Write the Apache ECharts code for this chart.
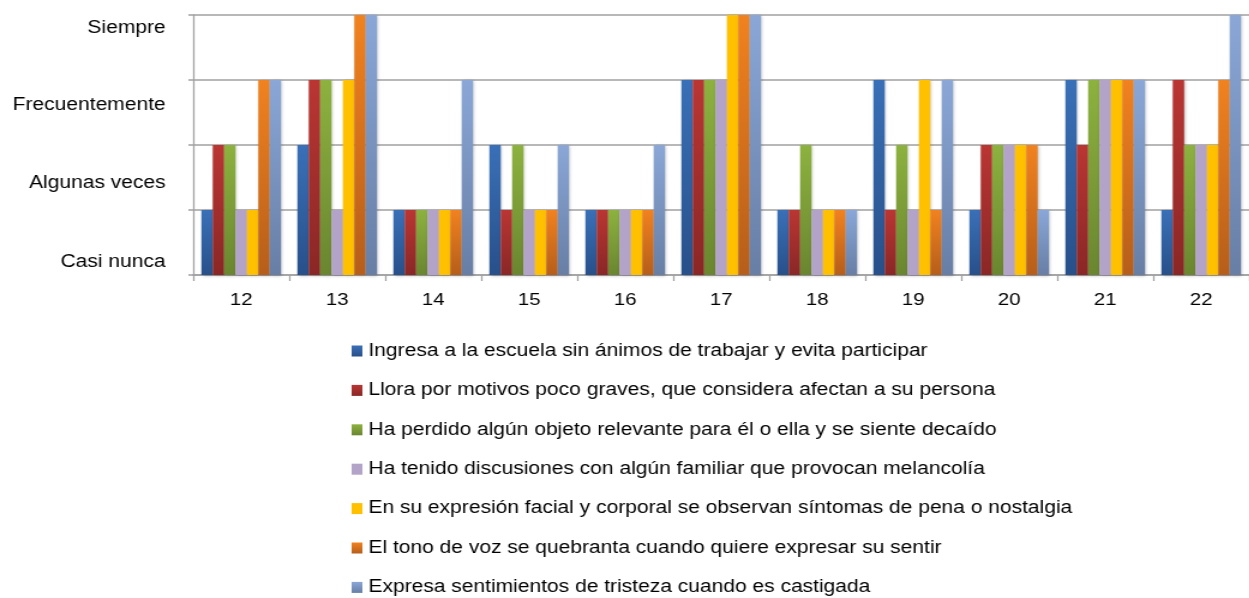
<!DOCTYPE html>
<html>
<head>
<meta charset="utf-8">
<script src="https://cdn.jsdelivr.net/npm/echarts@6/dist/echarts.min.js"></script>
<style>
  html, body { margin: 0; padding: 0; background: #fff; overflow: hidden; }
  /* el gráfico original está estirado en horizontal (~1.2x) */
  #chart { width: 1041px; height: 598px; transform: scaleX(1.2); transform-origin: 0 0; }
</style>
</head>
<body>
<div id="chart"></div>
<script>
// categorías (número de alumno / ítem)
const categories = ['12', '13', '14', '15', '16', '17', '18', '19', '20', '21', '22'];
// escala: 1 = Casi nunca ... 4 = Siempre
const levelLabels = ['Casi nunca', 'Algunas veces', 'Frecuentemente', 'Siempre'];

const seriesNames = [
  'Ingresa a la escuela sin ánimos de trabajar y evita participar',
  'Llora por motivos poco graves, que considera afectan a su persona',
  'Ha perdido algún objeto relevante para él o ella y se siente decaído',
  'Ha tenido discusiones con algún familiar que provocan melancolía',
  'En su expresión facial y corporal se observan síntomas de pena o nostalgia',
  'El tono de voz se quebranta cuando quiere expresar su sentir',
  'Expresa sentimientos de tristeza cuando es castigada'
];

const ingresa    = [1, 2, 1, 2, 1, 3, 1, 3, 1, 3, 1];
const llora      = [2, 3, 1, 1, 1, 3, 1, 1, 2, 2, 3];
const perdido    = [2, 3, 1, 2, 1, 3, 2, 2, 2, 3, 2];
const discusion  = [1, 1, 1, 1, 1, 3, 1, 1, 2, 3, 2];
const expresion  = [1, 3, 1, 1, 1, 4, 1, 3, 2, 3, 2];
const tonoVoz    = [3, 4, 1, 1, 1, 4, 1, 1, 2, 3, 3];
const tristeza   = [3, 4, 3, 2, 2, 4, 1, 3, 1, 3, 4];

const seriesData = [ingresa, llora, perdido, discusion, expresion, tonoVoz, tristeza];

// colores estilo Office (arriba / abajo del degradado)
const colorPairs = [
  ['#3A70B8', '#28508A'],
  ['#BA3633', '#8A2726'],
  ['#8DB23F', '#6A8630'],
  ['#B3A3C8', '#B3A3C8'],
  ['#FFC000', '#FFC000'],
  ['#F1821F', '#B65E1A'],
  ['#8AA7D7', '#687EA5']
];

// posición de las etiquetas de nivel (entre líneas de cuadrícula)
const labelPos = [0.2, 1.41, 2.62, 3.79];

const chart = echarts.init(document.getElementById('chart'));

const series = seriesNames.map((name, i) => ({
  name: name,
  type: 'bar',
  barGap: '0%',
  barCategoryGap: '17%',
  data: seriesData[i],
  itemStyle: {
    color: new echarts.graphic.LinearGradient(0, 0, 0, 1, [
      { offset: 0, color: colorPairs[i][0] },
      { offset: 1, color: colorPairs[i][1] }
    ]),
    shadowColor: 'rgba(0,0,0,0.25)',
    shadowBlur: 3,
    shadowOffsetX: 1,
    shadowOffsetY: 1
  }
}));

chart.setOption({
  animation: false,
  textStyle: { fontFamily: 'Liberation Sans, Arial, sans-serif' },
  grid: { left: 161, right: -9, top: 15, bottom: 323, containLabel: false },
  legend: {
    orient: 'vertical',
    left: 293,
    top: 342,
    padding: 0,
    icon: 'rect',
    itemWidth: 9,
    itemHeight: 11,
    itemGap: 21.4,
    textStyle: { fontSize: 17.5, color: '#000', lineHeight: 18 },
    data: seriesNames
  },
  xAxis: {
    type: 'category',
    data: categories,
    axisLine: { lineStyle: { color: '#A0A0A0', width: 1.5 } },
    axisTick: { show: true, length: 6, lineStyle: { color: '#A0A0A0', width: 1.3 } },
    axisLabel: { fontSize: 17, color: '#000', margin: 17 }
  },
  yAxis: {
    type: 'value',
    min: 0,
    max: 4,
    interval: 1,
    axisLine: { show: true, lineStyle: { color: '#A0A0A0', width: 1.3 } },
    axisTick: { show: true, length: 4, lineStyle: { color: '#A0A0A0', width: 1.5 } },
    splitLine: { show: true, lineStyle: { color: '#A0A0A0', width: 1.5 } },
    axisLabel: {
      customValues: labelPos,
      fontSize: 17.5,
      color: '#000',
      margin: 23,
      formatter: function (v) {
        const idx = labelPos.indexOf(v);
        return idx >= 0 ? levelLabels[idx] : '';
      }
    }
  },
  series: series
});
</script>
</body>
</html>
